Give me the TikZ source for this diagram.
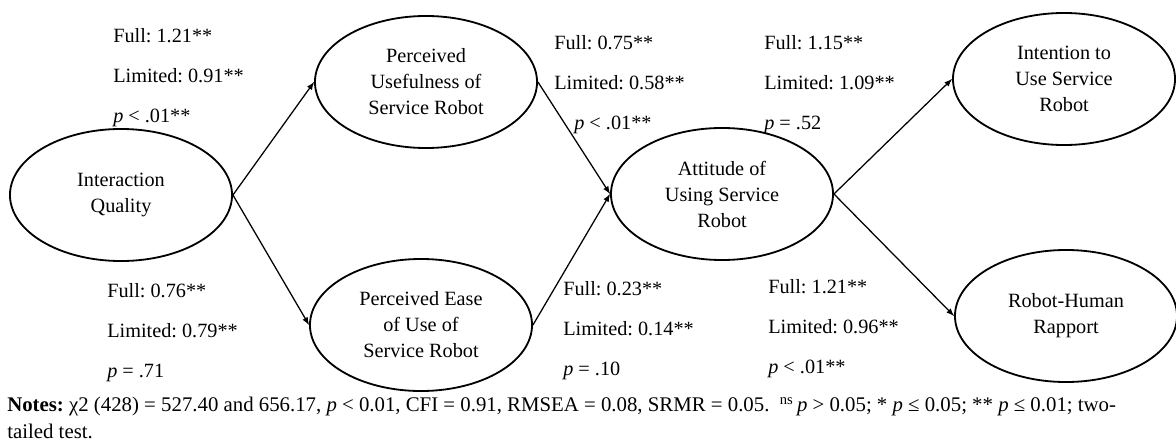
\documentclass[tikz,border=0pt]{standalone}
\usepackage{fontspec}
\setmainfont{Liberation Serif}
\usepackage{tikz}
\usetikzlibrary{shapes,arrows,positioning}
\frenchspacing
\tikzstyle{construct} = [ellipse, draw, line width=1.3pt, minimum width=5.55cm, minimum height=3.3cm, inner sep=0pt, align=center, font=\fontsize{14.4}{18.5}\selectfont]
\tikzstyle{coef} = [anchor=north west, inner sep=0pt, align=left, font=\fontsize{14.4}{28.4}\selectfont]
\tikzstyle{line} = [draw, line width=0.9pt, -latex]

\begin{document}
\begin{tikzpicture}[x=0.025cm, y=-0.025cm]
			\useasboundingbox (0, 0) rectangle (1176, 447);
			\node [construct] (iq) at (121, 195) {Interaction\\Quality};
			\node [construct] (pu) at (426, 82) {Perceived\\Usefulness of\\Service Robot};
			\node [construct] (pe) at (421, 325) {Perceived Ease\\of Use of\\Service Robot};
			\node [construct] (at) at (722, 194) {Attitude of\\Using Service\\Robot};
			\node [construct] (in) at (1064, 79) {Intention to\\Use Service\\Robot};
			\node [construct] (rh) at (1066, 316) {Robot-Human\\Rapport};
			
			\node [coef] (iqpu) at (113, 28) {Full: 1.21**\\Limited: 0.91**\\\textit{p} < .01**};
			\node [coef] (iqpe) at (107, 283) {Full: 0.76**\\Limited: 0.79**\\\textit{p} = .71};
			\node [coef] (puat) at (554, 35) {Full: 0.75**\\Limited: 0.58**\\\hspace*{0.5cm}\textit{p} < .01**};
			\node [coef] (peat) at (563, 281) {Full: 0.23**\\Limited: 0.14**\\\textit{p} = .10};
			\node [coef] (atin) at (764, 35) {Full: 1.15**\\Limited: 1.09**\\\textit{p} = .52};
			\node [coef] (atrh) at (768, 279) {Full: 1.21**\\Limited: 0.96**\\\textit{p} < .01**};
			
			\node [anchor=north west, inner sep=0pt, align=left, font=\fontsize{14.8}{19.2}\selectfont] (notes) at (7, 397) {\textbf{Notes:} χ2 (428) = 527.40 and 656.17, \textit{p} < 0.01, CFI = 0.91, RMSEA = 0.08, SRMR = 0.05.\ \ \textsuperscript{ns}\,\textit{p} > 0.05; * \textit{p} ≤ 0.05; ** \textit{p} ≤ 0.01; two-\\tailed test.};
			
			\path [line] (iq.east) -- (pu.west);
			\path [line] (iq.east) -- (pe.west);
			\path [line] (pu.east) -- (at.west);
			\path [line] (pe.east) -- (at.west);
			\path [line] (at.east) -- (in.west);
			\path [line] (at.east) -- (rh.west);
		\end{tikzpicture}
\end{document}
